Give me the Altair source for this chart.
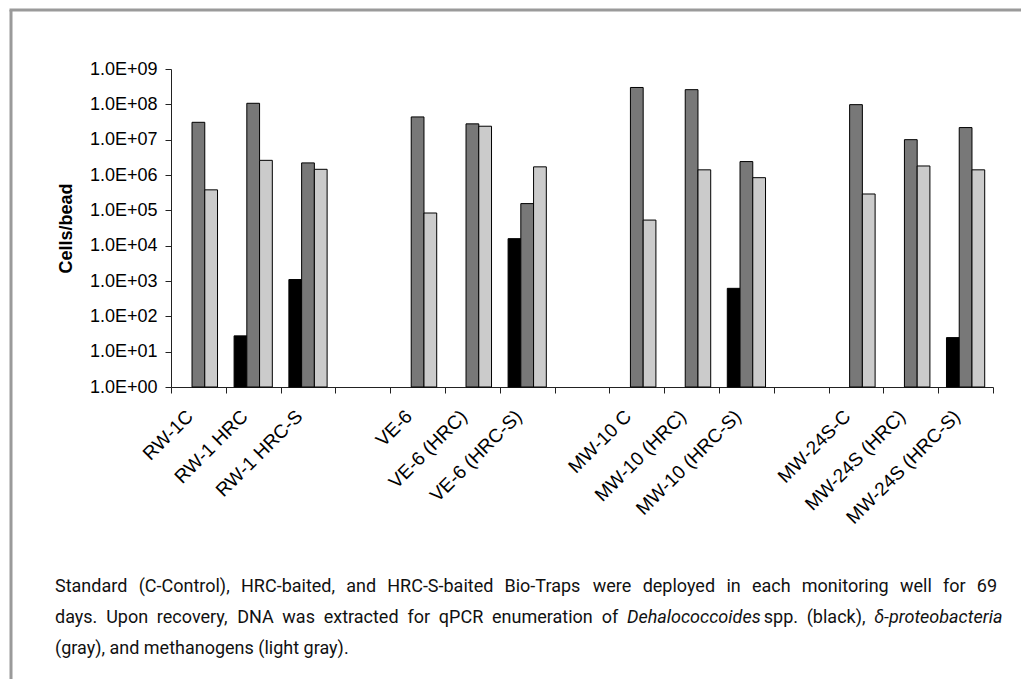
import altair as alt
import pandas as pd

# ---- data ----
samples = ["RW-1C", "RW-1 HRC", "RW-1 HRC-S",
           "VE-6", "VE-6 (HRC)", "VE-6 (HRC-S)",
           "MW-10 C", "MW-10 (HRC)", "MW-10 (HRC-S)",
           "MW-24S-C", "MW-24S (HRC)", "MW-24S (HRC-S)"]
category_order = ["RW-1C", "RW-1 HRC", "RW-1 HRC-S", "gap1",
                  "VE-6", "VE-6 (HRC)", "VE-6 (HRC-S)", "gap2",
                  "MW-10 C", "MW-10 (HRC)", "MW-10 (HRC-S)", "gap3",
                  "MW-24S-C", "MW-24S (HRC)", "MW-24S (HRC-S)"]
dehalococcoides = [None, 28, 1.1e3, None, None, 1.58e4, None, None, 620, None, None, 25]
delta_proteobacteria = [3.1e7, 1.07e8, 2.2e6, 4.4e7, 2.8e7, 1.55e5, 3.0e8, 2.6e8, 2.4e6, 9.8e7, 1.0e7, 2.2e7]
methanogens = [3.8e5, 2.6e6, 1.45e6, 8.4e4, 2.4e7, 1.7e6, 5.3e4, 1.4e6, 8.4e5, 2.9e5, 1.8e6, 1.4e6]
series_names = ["Dehalococcoides", "delta-proteobacteria", "methanogens"]
series_colors = ["#000000", "#787878", "#cbcbcb"]
y_ticks = [1, 1e1, 1e2, 1e3, 1e4, 1e5, 1e6, 1e7, 1e8, 1e9]
axis_floor = 1

# caption: (word, italic) per justified line; last line is not justified
caption_line1 = [(w, False) for w in
                 "Standard (C-Control), HRC-baited, and HRC-S-baited Bio-Traps were "
                 "deployed in each monitoring well for 69".split()]
caption_line2 = ([(w, False) for w in
                  "days. Upon recovery, DNA was extracted for qPCR enumeration of".split()]
                 + [("Dehalococcoides", True), ("spp.", False), ("(black),", False),
                    ("\u03b4-proteobacteria", True)])
caption_line3 = "(gray), and methanogens (light gray)."

rows = []
for name, vals in zip(series_names, [dehalococcoides, delta_proteobacteria, methanogens]):
    for s, v in zip(samples, vals):
        if v is not None:
            rows.append({"sample": s, "series": name, "value": v, "base": axis_floor})
df = pd.DataFrame(rows)

W, H = 822, 318
AX_FONT = "Liberation Sans, Arial, sans-serif"
CAP_FONT = "Roboto, Open Sans, sans-serif"

bars = alt.Chart(df).mark_bar(stroke="#000000", strokeWidth=1).encode(
    x=alt.X("sample:N",
            scale=alt.Scale(domain=category_order, paddingInner=0, paddingOuter=0),
            axis=alt.Axis(title=None, labelAngle=-45, labelAlign="right",
                          labelBaseline="middle", labelFont=AX_FONT, labelFontSize=19,
                          labelColor="#000000", labelPadding=20, labelOffset=-9,
                          labelExpr="indexof(datum.label, 'gap') == 0 ? '' : datum.label",
                          tickBand="extent", tickSize=6, tickColor="#222222",
                          domainColor="#222222", grid=False, labelOverlap=False)),
    xOffset=alt.XOffset("series:N",
                        scale=alt.Scale(domain=series_names, paddingInner=0, paddingOuter=0.65)),
    y=alt.Y("value:Q", stack=None,
            scale=alt.Scale(type="log", domain=[1, 1e9], nice=False),
            axis=alt.Axis(title="Cells/bead", titleFont=AX_FONT, titleFontSize=18,
                          titleFontWeight="bold", titleColor="#000000", titlePadding=14,
                          values=y_ticks,
                          labelExpr="'1.0E+0' + round(log(datum.value) / LN10)",
                          labelFont=AX_FONT, labelFontSize=18, labelColor="#000000",
                          labelPadding=8, tickSize=6, tickColor="#222222",
                          domainColor="#222222", grid=False)),
    y2=alt.Y2("base:Q"),
    color=alt.Color("series:N", scale=alt.Scale(domain=series_names, range=series_colors),
                    legend=None),
)

one = pd.DataFrame({"k": [0]})
BORDER = "#9a9a9a"
border_left = alt.Chart(one).mark_rule(color=BORDER, strokeWidth=3).encode(
    x=alt.value(-160), y=alt.value(-59), y2=alt.value(700))
border_top = alt.Chart(one).mark_rule(color=BORDER, strokeWidth=3).encode(
    x=alt.value(-161.5), x2=alt.value(900), y=alt.value(-59))

# approximate Roboto advance widths (em) used only to justify caption words
ADV = {" ": .248, "a": .543, "b": .561, "c": .523, "d": .564, "e": .529, "f": .347,
       "g": .561, "h": .551, "i": .243, "j": .239, "k": .507, "l": .243, "m": .876,
       "n": .552, "o": .570, "p": .561, "q": .568, "r": .338, "s": .516, "t": .327,
       "u": .551, "v": .484, "w": .751, "x": .496, "y": .473, "z": .496, "A": .652,
       "B": .622, "C": .651, "D": .656, "H": .713, "N": .713, "P": .631, "R": .616,
       "S": .593, "T": .614, "U": .648, "(": .342, ")": .348, ",": .196, ".": .263,
       "-": .276, "\u03b4": .56}


def text_width(s, size, italic=False):
    return sum(ADV.get(ch, .561) for ch in s) * size * (0.93 if italic else 1.0)


LEFT, RIGHT = 55, 997
AVAIL = RIGHT - LEFT
size = 18.0
for line in (caption_line1, caption_line2):
    natural = sum(text_width(w, 1, it) for w, it in line) + ADV[" "] * (len(line) - 1)
    size = min(size, AVAIL / natural)


def cap(text, x, y, italic=False):
    return alt.Chart(one).mark_text(
        font=CAP_FONT, fontSize=size, color="#111111", align="left", baseline="middle",
        fontStyle="italic" if italic else "normal",
    ).encode(x=alt.value(x - 171), y=alt.value(y - 69), text=alt.value(text))


captions = []
for line, ypix in ((caption_line1, 587), (caption_line2, 618)):
    words_w = [text_width(w, size, it) for w, it in line]
    gap = (AVAIL - sum(words_w)) / (len(line) - 1)
    x = LEFT
    for (w, it), ww in zip(line, words_w):
        captions.append(cap(w, x, ypix, italic=it))
        x += ww + gap
captions.append(cap(caption_line3, LEFT, 649))

chart = alt.layer(bars, border_left, border_top, *captions).properties(
    width=W, height=H,
    autosize=alt.AutoSizeParams(type="none"),
    padding={"left": 163, "top": 61, "right": 28, "bottom": 292},
    background="white",
).configure_view(stroke=None)

chart.save("out.html", embed_options={"renderer": "svg", "actions": False})
